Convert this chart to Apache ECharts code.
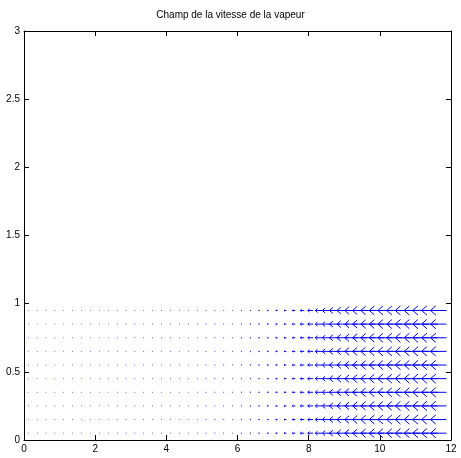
<!DOCTYPE html>
<html><head><meta charset="utf-8">
<script src="https://cdn.jsdelivr.net/npm/echarts@6/dist/echarts.min.js"></script>
<style>html,body{margin:0;padding:0;background:#fff}#c{width:461px;height:458px}</style>
</head><body><div id="c"></div>
<script>
const title = "Champ de la vitesse de la vapeur";
const xTicks = [0, 2, 4, 6, 8, 10, 12];
const yTicks = [0, 0.5, 1, 1.5, 2, 2.5, 3];
const rows = [0.05, 0.15, 0.25, 0.35, 0.45, 0.55, 0.65, 0.75, 0.85, 0.95];
const cols = [0.125,0.375,0.625,0.875,1.125,1.375,1.625,1.875,2.125,2.375,
  2.625,2.875,3.125,3.375,3.625,3.875,4.125,4.375,4.625,4.875,
  5.125,5.375,5.625,5.875,6.125,6.375,6.625,6.875,7.125,7.375,
  7.625,7.875,8.125,8.375,8.625,8.875,9.125,9.375,9.625,9.875,
  10.125,10.375,10.625,10.875,11.125,11.375,11.625,11.875];
// arrow length (x-units), all vectors point in -x direction
const speeds = [0.01,0.01,0.01,0.01,0.01,0.01,0.01,0.01,0.01,0.01,
  0.012,0.012,0.012,0.012,0.012,0.012,0.012,0.012,0.012,0.012,
  0.015,0.015,0.015,0.015,0.02,0.025,0.03,0.04,0.05,0.065,
  0.085,0.11,0.15,0.19,0.24,0.29,0.33,0.36,0.39,0.41,
  0.42,0.43,0.43,0.44,0.44,0.45,0.45,0.45];

const data = [];
rows.forEach(y => cols.forEach((x, i) => data.push([x, y, -speeds[i]])));

const alpha = 0.33, beta = 0.23;
function renderItem(params, api) {
  const x = api.value(0), y = api.value(1), u = api.value(2);
  const tx = x + u;
  const tail = api.coord([x, y]);
  const tip = api.coord([tx, y]);
  const h1 = api.coord([tx - alpha * u, y + alpha * beta * u]);
  const h2 = api.coord([tx - alpha * u, y - alpha * beta * u]);
  const style = {stroke: '#0000ff', lineWidth: 1, fill: null};
  return {type: 'group', children: [
    {type: 'polyline', shape: {points: [tail, tip]}, style: style},
    {type: 'polyline', shape: {points: [h1, tip, h2]}, style: style}
  ]};
}

const font = '"Liberation Sans", Arial, sans-serif';
const axLine = {show: true, onZero: false, lineStyle: {color: '#000', width: 1}};
const axTick = {show: true, inside: true, length: 5, lineStyle: {color: '#000'}};
const chart = echarts.init(document.getElementById('c'), null, {renderer: 'canvas'});
chart.setOption({
  animation: false,
  title: {text: title, left: 'center', top: 5, textStyle: {fontFamily: font, fontSize: 10, fontWeight: 'normal', color: '#000'}},
  grid: {left: 24, right: 10, top: 31, bottom: 18, containLabel: false},
  xAxis: [
    {type: 'value', min: 0, max: 12, interval: 2, position: 'bottom', axisLine: axLine, axisTick: axTick, splitLine: {show: false},
     axisLabel: {fontFamily: font, fontSize: 10, color: '#000', margin: 4}},
    {type: 'value', min: 0, max: 12, interval: 2, position: 'top', axisLine: axLine, axisTick: axTick, splitLine: {show: false}, axisLabel: {show: false}}
  ],
  yAxis: [
    {type: 'value', min: 0, max: 3, interval: 0.5, position: 'left', axisLine: axLine, axisTick: axTick, splitLine: {show: false},
     axisLabel: {fontFamily: font, fontSize: 10, color: '#000', margin: 4}},
    {type: 'value', min: 0, max: 3, interval: 0.5, position: 'right', axisLine: axLine, axisTick: axTick, splitLine: {show: false}, axisLabel: {show: false}}
  ],
  series: [{type: 'custom', renderItem: renderItem, data: data, xAxisIndex: 0, yAxisIndex: 0, clip: true}]
});
</script></body></html>
